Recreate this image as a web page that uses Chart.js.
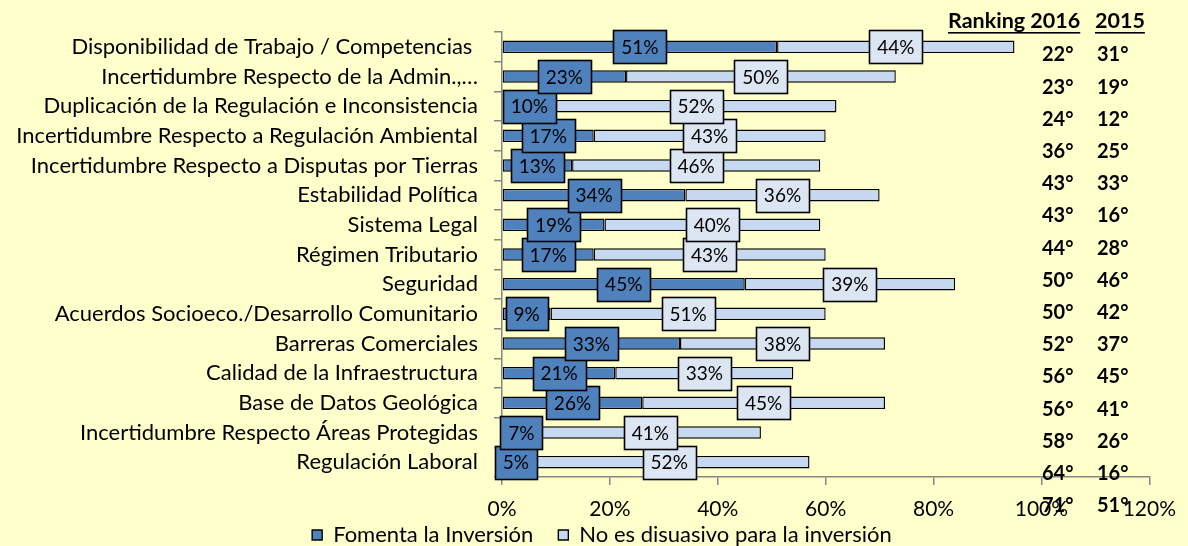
<!DOCTYPE html>
<html><head><meta charset="utf-8">
<script src="https://cdn.jsdelivr.net/npm/chart.js@4.4.0/dist/chart.umd.min.js"></script>
<style>html,body{margin:0;padding:0;background:#FFFFCC;overflow:hidden}#wrap{width:1188px;height:546px}canvas{display:block}</style>
</head><body><div id="wrap"><canvas id="c" width="1188" height="546"></canvas></div>
<script>
const categories = [
  "Disponibilidad de Trabajo / Competencias ",
  "Incertidumbre Respecto de la Admin.,…",
  "Duplicación de la Regulación e Inconsistencia",
  "Incertidumbre Respecto a Regulación Ambiental",
  "Incertidumbre Respecto a Disputas por Tierras",
  "Estabilidad Política",
  "Sistema Legal",
  "Régimen Tributario",
  "Seguridad",
  "Acuerdos Socioeco./Desarrollo Comunitario",
  "Barreras Comerciales",
  "Calidad de la Infraestructura",
  "Base de Datos Geológica",
  "Incertidumbre Respecto Áreas Protegidas",
  "Regulación Laboral"
];
const seriesNames = ["Fomenta la Inversión", "No es disuasivo para la inversión"];
const fomenta = [51, 23, 10, 17, 13, 34, 19, 17, 45, 9, 33, 21, 26, 7, 5];
const noDisuasivo = [44, 50, 52, 43, 46, 36, 40, 43, 39, 51, 38, 33, 45, 41, 52];
const rankHeader = ["Ranking 2016", "2015"];
const rank2016 = ["22°","23°","24°","36°","43°","43°","44°","50°","50°","52°","56°","56°","58°","64°","71°"];
const rank2015 = ["31°","19°","12°","25°","33°","16°","28°","46°","42°","37°","45°","41°","26°","16°","51°"];
const xMin = 0, xMax = 120, xStep = 20;

const FONT = "Lato";
const DARK = "#4F81BD", LIGHT = "#C6D9F1", LIGHT_BOX = "#DCE6F2", AXIS = "#868686";

const boxLabels = {
  id: "boxLabels",
  afterDatasetsDraw(chart) {
    const ctx = chart.ctx;
    ctx.save();
    ctx.font = "19px " + FONT;
    ctx.textAlign = "center";
    ctx.textBaseline = "middle";
    chart.data.datasets.forEach((ds, di) => {
      const meta = chart.getDatasetMeta(di);
      for (let i = meta.data.length - 1; i >= 0; i--) {
        const bar = meta.data[i];
        const txt = ds.data[i] + "%";
        const cx = (bar.x + bar.base) / 2, cy = bar.y;
        const w = Math.round(ctx.measureText(txt).width + 16), h = 33;
        const x0 = Math.round(cx - w / 2) + 0.5, y0 = Math.round(cy - h / 2) + 0.5;
        ctx.fillStyle = ds.boxFill;
        ctx.fillRect(x0, y0, w, h);
        ctx.lineWidth = 1.6;
        ctx.strokeStyle = "#000";
        ctx.strokeRect(x0, y0, w, h);
        ctx.fillStyle = "#000";
        ctx.fillText(txt, cx, cy + 1);
      }
    });
    ctx.restore();
  }
};

const ranking = {
  id: "ranking",
  afterDraw(chart) {
    const ctx = chart.ctx;
    ctx.save();
    ctx.textAlign = "left";
    ctx.textBaseline = "middle";
    ctx.fillStyle = "#000";
    ctx.font = "bold 21.5px " + FONT;
    const hx = [948, 1095], hy = 21;
    rankHeader.forEach((t, k) => {
      ctx.fillText(t, hx[k], hy);
      const w = ctx.measureText(t).width;
      ctx.fillRect(hx[k], hy + 11, w, 1.6);
    });
    ctx.font = "bold 20px " + FONT;
    for (let i = 0; i < rank2016.length; i++) {
      const y = 55 + 32.2 * i;
      ctx.fillText(rank2016[i], 1042, y);
      ctx.fillText(rank2015[i], 1097, y);
    }
    ctx.restore();
  }
};

const noClip = s => { s._computeLabelArea = () => undefined; };

Chart.defaults.font.family = FONT;
Chart.defaults.color = "#000";

new Chart(document.getElementById("c"), {
  type: "bar",
  data: {
    labels: categories,
    datasets: [
      { label: seriesNames[0], data: fomenta, backgroundColor: DARK, borderColor: "#000", borderWidth: 1.4, borderSkipped: false, boxFill: DARK },
      { label: seriesNames[1], data: noDisuasivo, backgroundColor: LIGHT, borderColor: "#000", borderWidth: 1.4, borderSkipped: false, boxFill: LIGHT_BOX }
    ]
  },
  options: {
    indexAxis: "y",
    responsive: false,
    animation: false,
    barPercentage: 0.42,
    categoryPercentage: 1.0,
    layout: { padding: { left: 54, right: 38, top: 32, bottom: -10 } },
    scales: {
      x: {
        stacked: true, min: xMin, max: xMax,
        afterFit: s => { s.height = 22; noClip(s); },
        ticks: { stepSize: xStep, callback: v => v + "%", font: { size: 21 }, padding: 12, color: "#000", maxRotation: 0 },
        grid: { drawOnChartArea: false, drawTicks: true, tickLength: 8, color: AXIS, lineWidth: 1.5 },
        border: { color: AXIS, width: 1.5 }
      },
      y: {
        stacked: true,
        afterFit: s => { s.width = 448; noClip(s); },
        ticks: { font: { size: 22 }, padding: 16, color: "#000", autoSkip: false },
        grid: { drawOnChartArea: false, drawTicks: true, tickLength: 8, color: AXIS, lineWidth: 1.5 },
        border: { color: AXIS, width: 1.5 }
      }
    },
    plugins: {
      legend: {
        position: "bottom",
        labels: { boxWidth: 10, boxHeight: 10, padding: 25, font: { size: 22 }, color: "#000" }
      },
      tooltip: { enabled: false }
    }
  },
  plugins: [boxLabels, ranking]
});
</script>
</body></html>
